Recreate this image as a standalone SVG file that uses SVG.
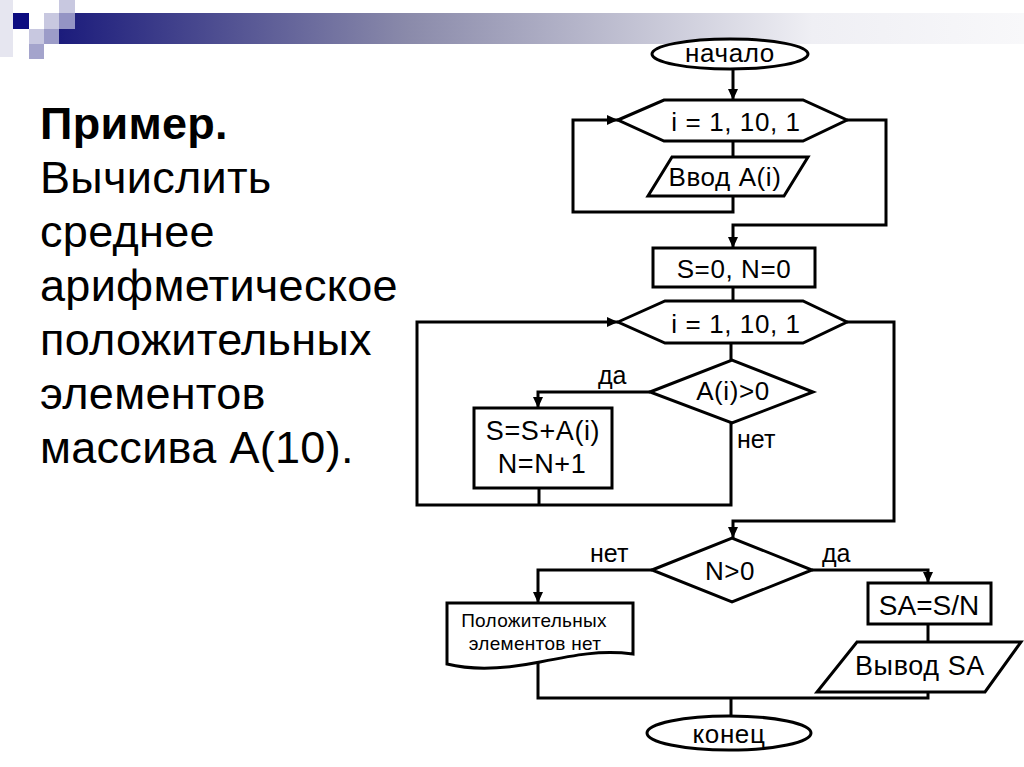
<svg xmlns="http://www.w3.org/2000/svg" width="1024" height="767" viewBox="0 0 1024 767">
<defs>
<linearGradient id="bar" gradientUnits="userSpaceOnUse" x1="60" y1="0" x2="1024" y2="0">
<stop offset="0" stop-color="#1c1c7c"/>
<stop offset="0.36" stop-color="#8a8aaa"/>
<stop offset="0.78" stop-color="#efeff4"/>
<stop offset="1" stop-color="#f8f8fa"/>
</linearGradient>
<marker id="arr" markerUnits="userSpaceOnUse" markerWidth="11" markerHeight="10" refX="11" refY="5" orient="auto">
<path d="M0,0 L11,5 L0,10 Z" fill="#000"/>
</marker>
<style>
.s{fill:#fff;stroke:#000;stroke-width:3}
.c{fill:none;stroke:#000;stroke-width:3}
.a{marker-end:url(#arr)}
text{font-family:"Liberation Sans",Arial,sans-serif;fill:#000}
.t{font-size:26px;text-anchor:middle;letter-spacing:0.6px}
.l{font-size:25px}
.m{font-size:19px;text-anchor:middle;letter-spacing:0.3px}
.h{font-size:45px;letter-spacing:0.3px}
</style>
</defs>
<rect width="1024" height="767" fill="#fff"/>
<g id="header">
<rect x="0" y="0" width="13" height="57" fill="#e6e6f0"/>
<rect x="59" y="29" width="965" height="15" fill="url(#bar)"/>
<rect x="75" y="13" width="949" height="16" fill="url(#bar)"/>
<rect x="13" y="13" width="16" height="16" fill="#0c0c80"/>
<rect x="29" y="29" width="15" height="15" fill="#c8c8e0"/>
<rect x="29" y="44" width="15" height="15" fill="#a4a4cc"/>
<rect x="44" y="13" width="15" height="16" fill="#c8c8e0"/>
<rect x="44" y="29" width="15" height="15" fill="#9c9cc8"/>
<rect x="59" y="0" width="16" height="13" fill="#c8c8e0"/>
<rect x="59" y="13" width="16" height="16" fill="#9494c4"/>
</g>
<g id="title">
<text class="h" x="40" y="139" font-weight="bold">Пример.</text>
<text class="h" x="40" y="193">Вычислить</text>
<text class="h" x="40" y="247">среднее</text>
<text class="h" x="40" y="301">арифметическое</text>
<text class="h" x="40" y="355">положительных</text>
<text class="h" x="40" y="409">элементов</text>
<text class="h" x="40" y="463">массива А(10).</text>
</g>
<g id="connectors">
<path class="c a" d="M733,69 V100"/>
<path class="c" d="M733,141 V157"/>
<path class="c a" d="M733,196 V212 H573 V120 H618"/>
<path class="c a" d="M847,120 H886 V225 H733 V248"/>
<path class="c" d="M733,287 V301"/>
<path class="c" d="M731,343 V360"/>
<path class="c a" d="M650,392 H538 V408"/>
<path class="c" d="M539,488 V505"/>
<path class="c a" d="M731,423 V505 H417 V322 H618"/>
<path class="c a" d="M847,322 H894 V521 H733 V538"/>
<path class="c a" d="M652,570 H538 V603"/>
<path class="c a" d="M812,570 H928 V583"/>
<path class="c" d="M928,624 V642"/>
<path class="c" d="M538,662 V698 H928 V692"/>
<path class="c" d="M731,698 V716"/>
<text class="l" x="598" y="384">да</text>
<text class="l" x="737" y="448">нет</text>
<text class="l" x="590" y="562">нет</text>
<text class="l" x="822" y="562">да</text>
</g>
<g id="start">
<ellipse class="s" cx="730" cy="54" rx="78" ry="15"/>
<text class="t" x="730" y="62">начало</text>
</g>
<g id="loop1">
<polygon class="s" points="618,120 664,100 803,100 847,120 803,141 664,141"/>
<text class="t" x="736" y="131">i = 1, 10, 1</text>
</g>
<g id="input">
<polygon class="s" points="672,157 808,157 784,196 648,196"/>
<text class="t" x="725" y="186">Ввод A(i)</text>
</g>
<g id="init">
<rect class="s" x="653" y="248" width="162" height="39"/>
<text class="t" x="734" y="278">S=0, N=0</text>
</g>
<g id="loop2">
<polygon class="s" points="618,322 665,301 803,301 847,322 803,343 665,343"/>
<text class="t" x="736" y="333">i = 1, 10, 1</text>
</g>
<g id="cond1">
<polygon class="s" points="650,392 732,360 813,392 732,423"/>
<text class="t" x="733" y="400">A(i)&gt;0</text>
</g>
<g id="sum">
<rect class="s" x="474" y="408" width="138" height="80"/>
<text class="t" x="543" y="440" style="font-size:27px">S=S+A(i)</text>
<text class="t" x="542" y="473" style="font-size:27px">N=N+1</text>
</g>
<g id="cond2">
<polygon class="s" points="652,570 732,538 812,570 732,602"/>
<text class="t" x="730" y="580">N&gt;0</text>
</g>
<g id="calc">
<rect class="s" x="868" y="583" width="123" height="41"/>
<text class="t" x="929" y="615" style="font-size:28px;letter-spacing:0">SA=S/N</text>
</g>
<g id="output">
<polygon class="s" points="857,642 1021,642 985,692 817,692"/>
<text class="t" x="920" y="675" style="font-size:27px">Вывод SA</text>
</g>
<g id="message">
<path class="s" d="M447,603 H633 V654 C600,650 575,655 540,662 C505,669 475,671 447,664 Z"/>
<text class="m" x="534" y="627">Положительных</text>
<text class="m" x="535" y="650">элементов нет</text>
</g>
<g id="end">
<ellipse class="s" cx="729" cy="733" rx="82" ry="17"/>
<text class="t" x="729" y="743">конец</text>
</g>
</svg>
